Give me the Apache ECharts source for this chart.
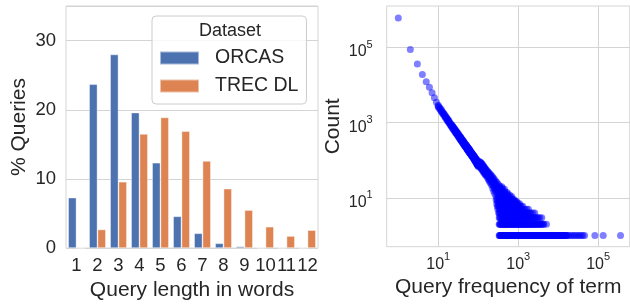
<!DOCTYPE html>
<html>
<head>
<meta charset="utf-8">
<script src="https://cdn.jsdelivr.net/npm/echarts@6/dist/echarts.min.js"></script>
<style>
    html, body { margin: 0; padding: 0; background: #fff; }
    #main { width: 630px; height: 306px; }
</style>
</head>
<body>
<div id="main"></div>
<script>
    // left panel: share of queries per length
    var lengthCategories = ['1', '2', '3', '4', '5', '6', '7', '8', '9', '10', '11', '12'];
    var orcasPct = [7.3, 23.7, 28.0, 19.6, 12.35, 4.6, 2.15, 0.7, 0.25, 0, 0, 0];
    var trecPct = [0, 2.7, 9.6, 16.5, 18.9, 16.9, 12.6, 8.6, 5.5, 3.1, 1.75, 2.6];

    // right panel: [query frequency, count]
    var termHead = [[1, 600000], [2, 88000], [3, 36000], [4, 19000], [5, 12300], [6, 8700], [7, 6200], [8, 4600], [9, 3500]];
    var termBand = [[10, 2750], [11, 2350], [12, 2080], [13, 1800], [14, 1640], [15, 1430], [16, 1330], [17, 1190], [18, 1110],
        [19, 1000], [20, 950], [20, 880], [21, 860], [22, 800], [23, 760], [24, 720], [25, 660], [26, 640], [27, 590], [28, 570],
        [29, 530], [30, 510], [30, 470], [31, 500], [32, 450], [33, 440], [34, 420], [35, 400], [36, 390], [37, 370], [38, 350],
        [39, 345], [40, 330], [40, 300], [41, 315], [42, 310], [43, 290], [44, 285], [45, 275], [46, 262], [47, 258], [48, 250],
        [49, 238], [50, 232], [50, 255], [51, 228], [52, 220], [53, 214], [54, 210], [55, 204], [56, 200], [57, 192], [58, 188],
        [59, 184], [60, 180], [60, 160], [60, 198], [62, 172], [63, 165], [64, 163], [65, 158], [66, 156], [67, 150], [68, 148],
        [70, 142], [70, 128], [70, 155], [72, 136], [74, 130], [75, 128], [76, 124], [78, 120], [80, 115], [80, 102], [80, 128],
        [82, 112], [84, 106], [85, 104], [86, 100], [88, 98], [90, 96], [90, 84], [90, 108], [92, 92], [94, 89], [95, 86],
        [96, 86], [98, 84], [100, 82]];
    var termBandEdge = [[10, 2600], [10, 2900], [11, 2250], [11, 2500], [12, 1950], [12, 2200], [13, 1720], [13, 1900],
        [14, 1550], [14, 1720], [15, 1380], [15, 1530], [16, 1250], [16, 1400], [17, 1130], [17, 1260], [18, 1040], [18, 1170],
        [19, 960], [19, 1060], [21, 810], [21, 910], [22, 760], [22, 850], [23, 700], [23, 800], [24, 670], [24, 760], [25, 620],
        [25, 700], [26, 590], [26, 680], [27, 550], [27, 630], [28, 520], [28, 600], [29, 500], [29, 560], [31, 460], [31, 530],
        [32, 420], [32, 480], [33, 410], [33, 470], [34, 390], [34, 445], [35, 370], [35, 425], [36, 360], [36, 415], [37, 340],
        [37, 395], [38, 325], [38, 375], [39, 320], [39, 365], [41, 295], [41, 340], [42, 285], [42, 330], [43, 270], [43, 310],
        [44, 260], [44, 300], [45, 255], [45, 295], [46, 245], [46, 280], [47, 235], [47, 272], [48, 230], [48, 265], [49, 222],
        [49, 255], [51, 210], [51, 245], [52, 202], [52, 235], [53, 198], [53, 228], [54, 192], [54, 222], [55, 188], [55, 218],
        [56, 182], [56, 212], [57, 178], [57, 205], [58, 172], [58, 200], [59, 168], [59, 196], [61, 165], [61, 185], [62, 160],
        [62, 182], [63, 155], [63, 178], [64, 150], [64, 172], [65, 146], [65, 168], [66, 143], [66, 165], [67, 140], [67, 160],
        [68, 136], [68, 156], [69, 134], [69, 152], [71, 130], [71, 148], [72, 126], [72, 145], [73, 124], [73, 140], [74, 120],
        [74, 138], [75, 118], [75, 136], [76, 116], [76, 132], [77, 113], [77, 130], [78, 110], [78, 126], [79, 108], [79, 124],
        [81, 106], [81, 120], [82, 104], [82, 118], [83, 100], [83, 116], [84, 98], [84, 114], [85, 96], [85, 112], [86, 94],
        [86, 108], [87, 92], [87, 106], [88, 90], [88, 104], [89, 88], [89, 102], [91, 86], [91, 100], [92, 85], [92, 98],
        [93, 82], [93, 96], [94, 80], [94, 94], [95, 78], [95, 92], [96, 77], [96, 90], [97, 76], [97, 89], [98, 74], [98, 88],
        [99, 72], [99, 86]];
    var termSpread = [[100, 68], [100, 96], [104, 78], [106, 90], [108, 70], [110, 84], [112, 64], [114, 78], [116, 88],
        [118, 62], [120, 72], [122, 58], [124, 82], [126, 66], [128, 54], [130, 62], [132, 74], [134, 50], [136, 58], [138, 68],
        [140, 47], [142, 56], [144, 64], [146, 44], [148, 52], [150, 60], [152, 41], [155, 48], [158, 57], [160, 39], [163, 45],
        [166, 53], [170, 35], [173, 42], [176, 50], [180, 31], [183, 39], [186, 46], [190, 28], [194, 36], [198, 43], [202, 25],
        [206, 33], [210, 40], [215, 22], [220, 30], [225, 37], [230, 18], [235, 27], [240, 34], [245, 15], [250, 24], [255, 31],
        [260, 13], [266, 21], [272, 28], [280, 11], [286, 19], [292, 26], [300, 9], [308, 17], [315, 23], [322, 7], [330, 15],
        [338, 21]];
    var termSpreadFill = [[102, 74], [103, 88], [105, 82], [107, 76], [109, 92], [111, 74], [113, 70], [115, 84], [117, 72],
        [119, 80], [121, 66], [123, 76], [125, 62], [127, 72], [129, 60], [131, 68], [133, 58], [135, 66], [137, 54], [139, 62],
        [141, 52], [143, 60], [145, 50], [147, 58], [149, 48], [151, 54], [154, 44], [157, 52], [159, 46], [162, 50], [165, 42],
        [168, 48], [171, 40], [175, 45], [178, 37], [181, 43], [185, 35], [188, 41], [192, 33], [196, 39], [200, 31], [204, 37],
        [208, 29], [212, 35], [218, 27], [222, 33], [228, 24], [232, 30], [238, 22], [242, 28], [248, 20], [252, 26], [258, 18],
        [262, 24], [268, 16], [275, 22], [282, 16], [290, 20], [296, 14], [304, 19], [312, 12], [318, 18], [326, 11], [334, 17],
        [280, 9], [290, 7], [300, 6], [305, 8], [310, 5], [315, 10], [320, 6], [325, 4], [328, 8]];
    var spreadRows = [
        [1, [335, 350, 368, 385, 405, 425, 448, 470, 495, 520, 548, 575, 605, 640, 672, 710, 748, 790, 830, 875, 925, 975,
            1030, 1090, 1150, 1210, 1280, 1350, 1430, 1510, 1590, 1680, 1780, 1880, 1990, 2100, 2220, 2350, 2480, 2620, 2770,
            2930, 3100, 3280, 3470, 3670, 3880, 4100, 4350, 4600, 4870, 5150, 5450, 5780, 6120, 6490, 6880, 7290, 7730, 8200,
            8700, 9230, 9800, 10400, 11000, 11700, 12400, 13200, 14000, 14900, 15800, 17000, 18600, 20800, 23000, 25500,
            27800, 31500, 34000, 38000, 41500, 46000, 83000, 134000, 363000]],
        [1, [342, 358, 376, 395, 415, 436, 459, 482, 507, 534, 561, 590, 622, 656, 691, 729, 769, 810, 852, 900, 950, 1002,
            1060, 1120, 1180, 1245, 1315, 1390, 1470, 1550, 1635, 1730, 1830, 1935, 2045, 2160, 2285, 2415, 2550, 2695, 2850,
            3015, 3190, 3375, 3570, 3775, 3990, 4225, 4475, 4735, 5010, 5300, 5615, 5950, 6300, 6685, 7080, 7510, 7960, 8450,
            8960, 9510, 10100, 10700, 11350, 12050, 12800, 13600, 14450, 15350, 16400]],
        [2, [335, 355, 378, 400, 425, 452, 480, 510, 542, 576, 612, 650, 690, 733, 780, 828, 880, 935, 995, 1060, 1125, 1195,
            1270, 1350, 1440, 1530, 1630, 1740, 1860, 1990, 2130, 2280, 2450, 2640, 2850, 3080, 3350, 3650, 4000, 4400, 5100]],
        [2, [345, 366, 389, 412, 438, 466, 495, 526, 559, 594, 631, 670, 711, 756, 804, 854, 907, 965, 1027, 1092, 1160, 1232,
            1310, 1395, 1485, 1580, 1685, 1800, 1925, 2060, 2205, 2365, 2545, 2745, 2965, 3215, 3500, 3820, 4200]],
        [3, [335, 360, 388, 418, 450, 485, 522, 562, 605, 652, 702, 756, 815, 878, 946, 1020, 1100, 1185, 1280, 1380, 1490,
            1610, 1740, 1880, 2050, 2250, 2500, 2800, 3200, 3900]],
        [3, [347, 374, 403, 434, 467, 503, 542, 583, 628, 677, 729, 785, 846, 912, 983, 1060, 1142, 1232, 1330, 1435, 1550,
            1675, 1810, 1965, 2150, 2375, 2650, 3000, 3500]],
        [4, [335, 365, 398, 434, 473, 516, 563, 614, 670, 731, 797, 870, 950, 1040, 1135, 1240, 1360, 1500, 1660, 1850, 2100, 2600]],
        [4, [350, 381, 416, 453, 494, 539, 588, 642, 700, 764, 833, 910, 995, 1087, 1187, 1300, 1430, 1580, 1755, 1975, 2350]],
        [5, [335, 370, 410, 452, 500, 552, 610, 674, 745, 823, 910, 1005, 1110, 1230, 1450, 1800]],
        [5, [352, 390, 431, 476, 526, 581, 642, 709, 784, 866, 957, 1057, 1170, 1340, 1620]],
        [6, [335, 372, 415, 462, 515, 574, 640, 713, 795, 886, 990, 1120, 1300]],
        [6, [353, 393, 438, 488, 544, 607, 676, 754, 840, 938, 1055, 1210]],
        [7, [340, 380, 426, 478, 536, 600, 672, 752, 843, 950, 1080]],
        [7, [360, 403, 452, 507, 568, 636, 712, 797, 896, 1015]],
        [8, [340, 385, 436, 494, 560, 634, 718, 750, 813, 920]],
        [8, [362, 410, 465, 527, 597, 676, 766, 866]],
        [9, [340, 388, 443, 506, 578, 660, 754, 800]],
        [9, [364, 415, 474, 542, 619, 707]],
        [10, [345, 395, 452, 518, 593, 680]],
        [11, [350, 400, 458, 525, 600, 690]],
        [12, [345, 398, 460, 530, 610]],
        [13, [350, 405, 465, 535]],
        [14, [345, 400, 462, 530]],
        [15, [350, 400, 450]],
        [17, [345, 398, 455]],
        [18, [350, 400]],
        [20, [345, 390]]
    ];
    var powerTicks = [1, 3, 5];

    var textColor = '#262626';
    var lineColor = '#d4d4d4';
    var font = '"Liberation Sans", Arial, sans-serif';

    var termPoints = termHead.concat(termBand, termBandEdge, termSpread, termSpreadFill);
    spreadRows.forEach(function (row) {
        row[1].forEach(function (f) {
            termPoints.push([f, row[0]]);
        });
    });
    // both axes are log10, so plot exponents on value axes
    var scatterData = termPoints.map(function (p) {
        return [Math.log10(p[0]), Math.log10(p[1])];
    });

    function powLabel(v) {
        return '{b|10}{s|' + v + '}';
    }
    var powRich = {
        b: {fontSize: 16, lineHeight: 16, padding: [9, 0, 0, 0], color: textColor, fontFamily: font},
        s: {fontSize: 11, lineHeight: 11, verticalAlign: 'top', color: textColor, fontFamily: font}
    };
    var nameStyle = {fontSize: 21, color: textColor, fontFamily: font};

    var chart = echarts.init(document.getElementById('main'));
    var option = {
        animation: false,
        textStyle: {fontFamily: font},
        grid: [
            {left: 66, top: 6, width: 252, height: 245.7, show: true, borderColor: lineColor, borderWidth: 1},
            {left: 386.7, top: 6, width: 243, height: 240.7, show: true, borderColor: lineColor, borderWidth: 1}
        ],
        xAxis: [{
            type: 'category',
            gridIndex: 0,
            data: lengthCategories,
            axisTick: {show: false},
            axisLine: {show: false},
            axisLabel: {fontSize: 18.5, color: textColor, margin: 8, interval: 0},
            name: 'Query length in words',
            nameLocation: 'middle',
            nameGap: 29,
            nameTextStyle: nameStyle
        }, {
            type: 'value',
            gridIndex: 1,
            min: -0.29,
            max: 5.79,
            axisTick: {show: false, customValues: powerTicks},
            axisLine: {show: false},
            axisLabel: {customValues: powerTicks, formatter: powLabel, rich: powRich, margin: 5},
            splitLine: {show: true, lineStyle: {color: lineColor}},
            name: 'Query frequency of term',
            nameLocation: 'middle',
            nameGap: 29,
            nameTextStyle: nameStyle
        }],
        yAxis: [{
            type: 'value',
            gridIndex: 0,
            min: 0,
            max: 35,
            interval: 10,
            axisLine: {show: false},
            axisTick: {show: false},
            axisLabel: {fontSize: 18.5, color: textColor, margin: 10, showMaxLabel: false},
            splitLine: {lineStyle: {color: lineColor}},
            name: '% Queries',
            nameLocation: 'middle',
            nameGap: 36,
            nameTextStyle: nameStyle
        }, {
            type: 'value',
            gridIndex: 1,
            min: -0.295,
            max: 6.1,
            axisLine: {show: false},
            axisTick: {show: false, customValues: powerTicks},
            axisLabel: {customValues: powerTicks, formatter: powLabel, rich: powRich, margin: 14},
            splitLine: {show: true, lineStyle: {color: lineColor}},
            name: 'Count',
            nameLocation: 'middle',
            nameGap: 43,
            nameTextStyle: nameStyle
        }],
        legend: {
            left: 152,
            top: 16,
            orient: 'vertical',
            icon: 'rect',
            padding: [32, 8, 8, 7],
            itemWidth: 39,
            itemHeight: 13,
            itemGap: 8,
            backgroundColor: 'rgba(255,255,255,0.8)',
            borderColor: '#cccccc',
            borderWidth: 1,
            borderRadius: 4,
            textStyle: {fontSize: 19.5, color: textColor, lineHeight: 20, padding: [0, 0, 0, 11]},
            data: ['ORCAS', 'TREC DL']
        },
        graphic: [{
            type: 'text',
            z: 100,
            style: {
                text: 'Dataset', x: 230, y: 31.5, align: 'center', verticalAlign: 'middle',
                fontSize: 18, fontFamily: font, fill: textColor
            }
        }],
        series: [{
            name: 'ORCAS',
            type: 'bar',
            xAxisIndex: 0,
            yAxisIndex: 0,
            data: orcasPct,
            barGap: '0%',
            barCategoryGap: '20%',
            itemStyle: {color: '#4c72b0', borderColor: 'rgba(255,255,255,0.5)', borderWidth: 0.8}
        }, {
            name: 'TREC DL',
            type: 'bar',
            xAxisIndex: 0,
            yAxisIndex: 0,
            data: trecPct,
            barGap: '0%',
            barCategoryGap: '20%',
            itemStyle: {color: '#dd8452', borderColor: 'rgba(255,255,255,0.5)', borderWidth: 0.8}
        }, {
            name: 'terms',
            type: 'scatter',
            xAxisIndex: 1,
            yAxisIndex: 1,
            data: scatterData,
            symbolSize: 7,
            silent: true,
            itemStyle: {color: '#0000ff', opacity: 0.5}
        }]
    };
    chart.setOption(option);
</script>
</body>
</html>
